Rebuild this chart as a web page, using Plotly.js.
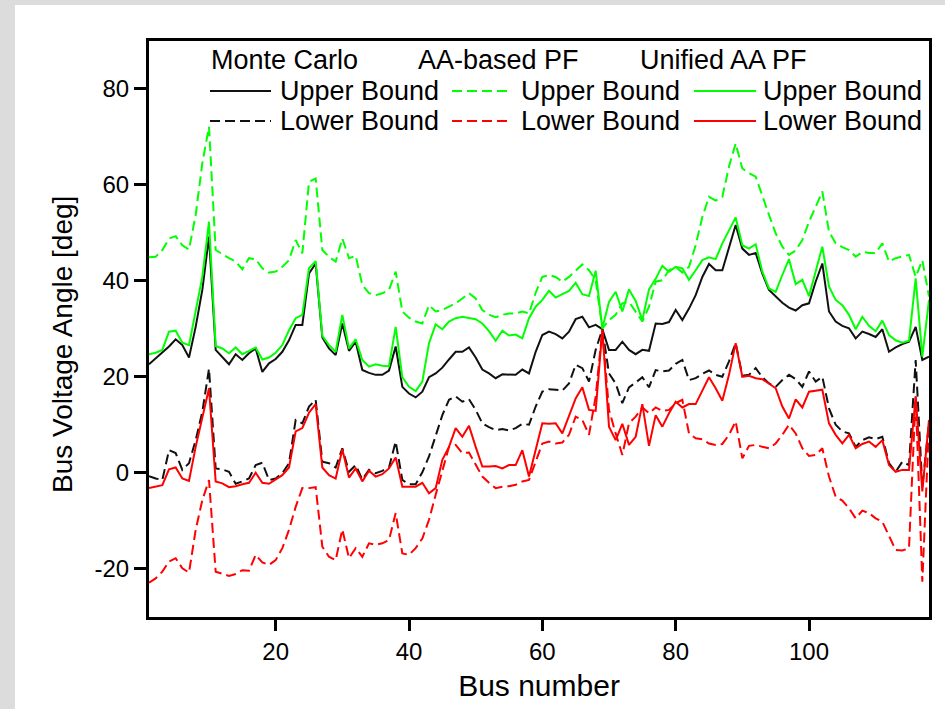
<!DOCTYPE html>
<html><head><meta charset="utf-8">
<script src="https://cdn.plot.ly/plotly-3.0.1.min.js"></script>
<style>
html,body{margin:0;padding:0;background:#dcdcdc;width:945px;height:709px;overflow:hidden}
#chart{position:absolute;left:15px;top:5px;width:930px;height:704px;background:#fff}
</style>
</head><body><div id="chart"></div>
<script>
const busNumber = [1,2,3,4,5,6,7,8,9,10,11,12,13,14,15,16,17,18,19,20,21,22,23,24,25,26,27,28,29,30,
31,32,33,34,35,36,37,38,39,40,41,42,43,44,45,46,47,48,49,50,51,52,53,54,55,56,57,58,59,60,
61,62,63,64,65,66,67,68,69,70,71,72,73,74,75,76,77,78,79,80,81,82,83,84,85,86,87,88,89,90,
91,92,93,94,95,96,97,98,99,100,101,102,103,104,105,106,107,108,109,110,111,112,113,114,115,116,117,118];

const monteCarloUpper = [22.5,23.7,25.1,26.2,27.7,26.5,23.9,30.3,38,49.1,
25.5,23.9,22.5,24.6,23.4,24.8,25.8,20.9,22.7,23.6,
25.1,27.5,30.7,30.7,41.4,43.5,28.1,25.8,24.4,31,
25.3,27.2,21.3,20.7,20.3,20.3,21.2,26.2,17.8,16.4,
15.6,16.8,19.8,20.6,21.8,23.5,25.1,25.1,26,23.9,
21.4,20.6,19.6,20.4,20.3,20.3,21.4,20.6,25.1,28.6,
29.3,28.8,27.9,29.3,31.9,32.4,30.2,30.7,29.8,25.5,
25.5,27.2,25.5,24.6,25.5,25.3,31,30.9,31.3,33.8,
31.7,34.1,36.9,40.7,43.4,42.1,42.1,46.6,51.5,46.6,
45.3,45.7,41.4,38,36.6,35.3,34.3,33.7,34.8,35.2,
39.7,43.5,33.5,31.4,30.5,30,27.9,29.3,28.8,28.2,
29.8,25.1,26,26.7,27.2,30.3,23.4,24.1];

const monteCarloLower = [-0.8,-1.3,-1.6,4.6,4.0,0.5,1.9,6.7,12.6,21.6,
0.8,0.6,0.1,-2.4,-1.9,-1.3,1.5,2,-1.6,-1.3,
-0.2,1.9,10.9,10.2,13.7,15.1,2.2,1.9,1,5,
0.1,1.5,-1.5,0.5,-0.2,0.3,1,6.4,-1.6,-2.5,
-2.5,0,3.3,7.4,11.9,15.1,15.8,14.7,15.2,13,
10.2,9.4,8.8,9,8.7,9.2,10.1,9.9,13.7,16.8,
17.3,17.2,17,18.5,22.4,21.7,18.9,25.5,29.8,20.6,
18.5,14.4,17.7,18.7,19.8,17.7,21.3,21,21.2,22.6,
23.4,19.2,19.6,20.5,21.2,20.3,19.9,23.1,26.9,20.1,
20.3,21.7,19.8,18.5,17.8,19.2,20.3,19.4,17.8,21,
18.9,19.9,13.3,9.9,8.5,8.1,5.3,6.7,7.3,6.9,
7.4,1.9,0.1,2.2,1.5,23.4,-3,10.2];

const aaUpper = [44.8,44.9,46.3,48.7,49.2,47.3,46.4,53.6,64.4,72,
46.3,45.4,44.6,43.9,42.3,44.6,44.4,42.5,41.6,41.8,
42.8,44.2,48.4,45.6,60.5,61.2,46.3,44.9,43.9,48.7,
44.6,45.1,39,37.3,36.9,37.3,38,41.8,33.5,32.2,
31.4,31,34.8,33.5,33.8,34.5,35.2,36.2,37.3,36.2,
33.8,32.8,32.3,32.8,33.1,33.1,33.5,33.1,37.4,40.7,
41.1,40.7,39.7,40.7,42.1,43.3,42.1,40,30,31.7,
32.8,35.2,35.5,33.5,31.4,34.5,39.7,40,42.1,42.8,
41.6,42.8,47.3,53.2,57.4,56.6,57.4,63.7,68.5,63.3,
62.3,61.6,57.4,53.6,49.8,47,45.3,46.2,48.4,52.2,
55.3,58.5,50.1,47.7,46.9,46.3,44.9,45.9,45.7,45.7,
47.7,43.9,44.6,44.9,45.3,40.7,44.2,36.6];

const aaLower = [-23,-22.1,-20.7,-18.6,-17.9,-20,-20.9,-12,-5.8,-1.6,
-20.7,-21.1,-21.6,-21.2,-20.4,-20.5,-17.2,-18.8,-19.3,-18.3,
-15.8,-12,-7.2,-3.3,-3.3,-3.1,-15.5,-17.6,-18.3,-11.9,
-17.9,-15.8,-17.6,-14.8,-15.1,-14.8,-14.1,-8.5,-16.9,-17.2,
-15.8,-13.8,-9.9,-4.7,0.5,5.3,5.7,4,4.1,1.5,
-0.9,-2.2,-3.3,-3,-2.9,-2.6,-1.9,-1.6,2.2,6,
6.4,6,6.2,7.8,11.6,10.9,7.8,15.8,29.7,13,
8.1,3.6,10.2,11.6,13.5,12.3,13.5,12.8,13,14.4,
15.1,8.1,7.1,6.9,6,5.7,5.9,7.8,10.6,2.9,
5.5,5.7,5.3,5,6,7.8,9.9,8.1,5,3.4,
3.6,5,-0.9,-5.1,-5.9,-7.5,-9.6,-8,-8.5,-9.6,
-10.3,-13.4,-16.2,-16.3,-15.8,15.8,-22.8,9.9];

const unifiedUpper = [24.6,24.9,25.5,29.3,29.5,27,26.5,33.8,40.7,52.2,
26.3,25.8,24.8,26,24.6,25.3,26,23.5,23.9,24.9,
26.5,29.6,32.1,32.8,42.5,44,28.4,26.5,25.1,32.8,
25.8,27.7,23.4,22,22.5,22.2,22.1,30.3,19.8,17.8,
16.9,18.9,26.9,30.8,29.8,31.4,32.1,32.4,32.1,31.9,
31,29.4,27.4,29.5,28.5,28.7,27.9,32.1,34.5,35.9,
37.8,36.4,37.1,37.8,39.5,37.1,36.7,42,30,35.5,
37.6,33.5,38.1,35.7,31.7,38.1,40.3,43,41.8,42.8,
42.5,40.1,42.1,44.2,44.8,44.4,47.7,50.5,53.1,47.3,
46.6,47.5,41.8,38.3,37.6,41.1,44.4,39.2,40.1,36.7,
41.8,47,38.7,35.9,34.8,32.8,29.8,32.4,30.5,29.4,
31.6,28.6,27.5,27,27.4,40.4,24.1,35.9];

const unifiedLower = [-3.3,-3,-2.7,0.6,1,-1.3,-1.8,5.3,11.6,17.5,
-1.9,-2.3,-3.1,-2.9,-2.5,-2.2,-0.1,-2.2,-2.4,-1.5,
-0.6,1,8.5,9.2,12.4,14.2,1,-0.6,-1.3,4.8,
-1.1,0.8,-1.9,0.3,-0.9,-0.4,0.8,3.1,-3,-3,
-3,-2.2,-4.4,-3.3,2.6,5.3,9.2,7.4,9.7,5.3,
1.2,1.2,1.3,0.8,1.5,1.5,4.6,-0.9,4.6,10.2,
10.1,10.2,8.1,11.6,15.4,17.7,13,12.8,29.7,9.5,
6.7,10.1,5.7,7.4,14.2,5.5,11.9,9.5,12.3,14.7,
13.5,14.2,14.2,17,19.8,17.5,14.9,20.3,26.9,19.9,
20.1,19.6,19.4,18.5,17.5,13.7,11.2,15.2,13.5,16.8,
17,17.2,10.2,7.8,6,7.8,5,5.9,6.4,5.3,
6.7,1.5,0.1,0.5,0.5,15.8,-4,10.9];

const xTicks = [20,40,60,80,100];
const yTicks = [-20,0,20,40,60,80];
const methodNames = ['Monte Carlo','AA-based PF','Unified AA PF'];
const boundNames = ['Upper Bound','Lower Bound'];
const xTitle = 'Bus number';
const yTitle = 'Bus Voltage Angle [deg]';

const FONT = 'Liberation Sans, Arial, sans-serif';
const DASH = '10px,5px';

function tr(name, y, color, dash){
  return {x: busNumber, y: y, name: name, type:'scatter', mode:'lines',
    line:{color: color, width: 2, dash: dash}, showlegend:false};
}
const traces = [
  tr('Monte Carlo Upper Bound', monteCarloUpper, '#111111', 'solid'),
  tr('Monte Carlo Lower Bound', monteCarloLower, '#111111', DASH),
  tr('AA-based PF Upper Bound', aaUpper, '#00ff00', DASH),
  tr('AA-based PF Lower Bound', aaLower, '#ff0000', DASH),
  tr('Unified AA PF Upper Bound', unifiedUpper, '#00ff00', 'solid'),
  tr('Unified AA PF Lower Bound', unifiedLower, '#ff0000', 'solid')
];

// custom legend (paper coordinates)
const W = 780, H = 576, L = 149, T = 41;
const px = v => (v - L) / W;
const py = v => (T + H - v) / H;
const legendCols = [
  {head: 209, x0: 210, x1: 271, tx: 278},
  {head: 416, x0: 452, x1: 507, tx: 519},
  {head: 638, x0: 694, x1: 756, tx: 761}
];
const legendStyles = [
  [{c:'#111111', d:'solid'}, {c:'#111111', d:DASH}],
  [{c:'#00ff00', d:DASH}, {c:'#ff0000', d:DASH}],
  [{c:'#00ff00', d:'solid'}, {c:'#ff0000', d:'solid'}]
];
const rowY = [91, 121];
const shapes = [];
const annotations = [];
legendCols.forEach((col, i) => {
  annotations.push({xref:'paper', yref:'paper', x: px(col.head), y: py(60), xanchor:'left', yanchor:'middle',
    text: methodNames[i], showarrow:false, font:{family:FONT, size:27, color:'#000'}});
  rowY.forEach((ry, j) => {
    const st = legendStyles[i][j];
    shapes.push({type:'line', xref:'paper', yref:'paper', x0: px(col.x0), x1: px(col.x1), y0: py(ry), y1: py(ry),
      line:{color: st.c, width: 2, dash: st.d}});
    annotations.push({xref:'paper', yref:'paper', x: px(col.tx), y: py(ry), xanchor:'left', yanchor:'middle',
      text: boundNames[j], showarrow:false, font:{family:FONT, size:27, color:'#000'}});
  });
});
// y-axis title placed as rotated text
annotations.push({xref:'paper', yref:'paper', x: px(62), y: py(345), xanchor:'center', yanchor:'middle',
  textangle:-90, text: yTitle, showarrow:false, font:{family:FONT, size:28, color:'#000'}});

const layout = {
  width: 930, height: 704,
  margin: {l: 134, r: 16, t: 36, b: 92},
  paper_bgcolor: '#ffffff', plot_bgcolor: '#ffffff',
  font: {family: FONT, color: '#000'},
  showlegend: false,
  xaxis: {range:[1,118], tickvals: xTicks, ticktext: xTicks.map(String), ticks:'outside', ticklen: 11, tickwidth: 3,
    tickcolor:'#000', showline:true, linewidth:3, linecolor:'#000', mirror:true, showgrid:false, zeroline:false,
    tickfont:{family:FONT, size:24, color:'#000'},
    title:{text: xTitle, font:{family:FONT, size:30, color:'#000'}, standoff: 12}},
  yaxis: {range:[-30.15,89.85], tickvals: yTicks, ticktext: yTicks.map(String), ticks:'outside', ticklen: 12, tickwidth: 3,
    tickcolor:'#000', showline:true, linewidth:3, linecolor:'#000', mirror:true, showgrid:false, zeroline:false,
    tickfont:{family:FONT, size:24, color:'#000'}},
  shapes: shapes,
  annotations: annotations
};

Plotly.newPlot('chart', traces, layout, {displayModeBar:false, staticPlot:true});
</script>
</body></html>
